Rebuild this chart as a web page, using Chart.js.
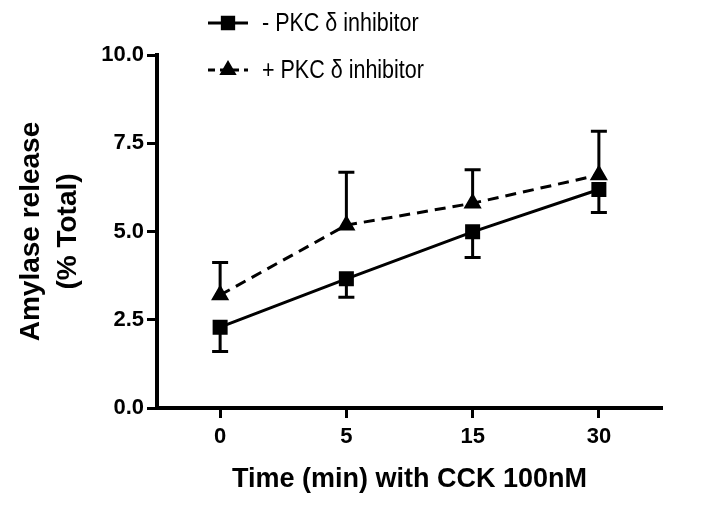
<!DOCTYPE html>
<html>
<head>
<meta charset="utf-8">
<script src="https://cdn.jsdelivr.net/npm/chart.js@4"></script>
<style>
  html, body { margin: 0; padding: 0; background: #fff; }
  #wrap { width: 704px; height: 511px; }
</style>
</head>
<body>
<div id="wrap"><canvas id="amylaseChart" width="704" height="511"></canvas></div>
<script>
// Data
const timeLabels = ["0", "5", "15", "30"];
const withoutInhibitor = [2.29, 3.66, 4.99, 6.19];
const withoutInhibitorErr = [0.69, 0.52, 0.73, 0.65];   // drawn downward
const withInhibitor = [3.2, 5.18, 5.8, 6.6];
const withInhibitorErr = [0.92, 1.5, 0.95, 1.24];       // drawn upward
const yTicks = [0, 2.5, 5, 7.5, 10];
const seriesNames = ["- PKC \u03b4 inhibitor", "+ PKC \u03b4 inhibitor"];

// Error bars: one-sided, drawn through the chart's own scales
const errorBars = {
  id: 'errorBars',
  beforeDatasetsDraw(chart) {
    const { ctx, scales: { x, y } } = chart;
    const sets = [
      { vals: withoutInhibitor, err: withoutInhibitorErr, dir: -1 },
      { vals: withInhibitor, err: withInhibitorErr, dir: 1 }
    ];
    ctx.save();
    ctx.strokeStyle = '#000';
    ctx.lineWidth = 3;
    sets.forEach(s => {
      s.vals.forEach((v, i) => {
        const px = x.getPixelForValue(i);
        const py0 = y.getPixelForValue(v);
        const py1 = y.getPixelForValue(v + s.dir * s.err[i]);
        ctx.beginPath();
        ctx.moveTo(px, py0);
        ctx.lineTo(px, py1);
        ctx.moveTo(px - 8, py1);
        ctx.lineTo(px + 8, py1);
        ctx.stroke();
      });
    });
    ctx.restore();
  }
};

// Legend: line sample with marker, then a slightly condensed label
const lineLegend = {
  id: 'lineLegend',
  afterDraw(chart) {
    const ctx = chart.ctx;
    const rows = [
      { y: 23, dash: [], style: 'rect', r: 8 },
      { y: 70, dash: [7, 5], style: 'triangle', r: 7 }
    ];
    ctx.save();
    rows.forEach((row, i) => {
      ctx.strokeStyle = '#000';
      ctx.lineWidth = 3;
      ctx.setLineDash(row.dash);
      ctx.beginPath();
      ctx.moveTo(208, row.y);
      ctx.lineTo(248, row.y);
      ctx.stroke();
      ctx.setLineDash([]);
      Chart.helpers.drawPoint(ctx, { pointStyle: row.style, radius: row.r, borderWidth: 1 }, 228, row.y);
      ctx.fillStyle = '#000';
      ctx.fill();
      ctx.save();
      ctx.translate(262, row.y + 1);
      ctx.scale(0.86, 1);
      ctx.font = '25px "Liberation Sans", Arial, sans-serif';
      ctx.textBaseline = 'middle';
      ctx.textAlign = 'left';
      ctx.fillText(seriesNames[i], 0, 0);
      ctx.restore();
    });
    ctx.restore();
  }
};

const tickFont = { family: '"Liberation Sans", Arial, sans-serif', size: 22, weight: 'bold' };

new Chart(document.getElementById('amylaseChart'), {
  type: 'line',
  data: {
    labels: timeLabels,
    datasets: [
      {
        label: seriesNames[0],
        data: withoutInhibitor,
        borderColor: '#000',
        backgroundColor: '#000',
        borderWidth: 3,
        pointStyle: 'rect',
        pointRadius: 8.5,
        tension: 0
      },
      {
        label: seriesNames[1],
        data: withInhibitor,
        borderColor: '#000',
        backgroundColor: '#000',
        borderWidth: 3,
        borderDash: [11, 7],
        pointStyle: 'triangle',
        pointRadius: 7.5,
        tension: 0
      }
    ]
  },
  options: {
    responsive: false,
    animation: false,
    layout: { padding: { top: 55, right: 42, left: 0, bottom: 0 } },
    plugins: {
      legend: { display: false },
      tooltip: { enabled: false }
    },
    scales: {
      x: {
        type: 'category',
        offset: true,
        afterFit: s => { s.height = 103; },
        grid: { drawOnChartArea: false, offset: false, tickLength: 10, tickWidth: 3, tickColor: '#000' },
        border: { color: '#000', width: 4 },
        ticks: { color: '#000', font: tickFont, padding: 6 },
        title: {
          display: true,
          text: 'Time (min) with CCK 100nM',
          color: '#000',
          font: { family: '"Liberation Sans", Arial, sans-serif', size: 27, weight: 'bold' },
          padding: { top: 0, bottom: 15 }
        }
      },
      y: {
        min: 0,
        max: 10,
        afterFit: s => { s.width = 157; },
        afterBuildTicks: s => { s.ticks = yTicks.map(v => ({ value: v })); },
        grid: { drawOnChartArea: false, tickLength: 10, tickWidth: 3, tickColor: '#000' },
        border: { color: '#000', width: 4 },
        ticks: {
          color: '#000',
          font: tickFont,
          padding: 3,
          callback: v => Number(v).toFixed(1)
        },
        title: {
          display: true,
          text: ['Amylase release', '(% Total)'],
          color: '#000',
          font: { family: '"Liberation Sans", Arial, sans-serif', size: 28, weight: 'bold', lineHeight: 1.35 },
          padding: { top: 12, bottom: 0 }
        }
      }
    }
  },
  plugins: [errorBars, lineLegend]
});
</script>
</body>
</html>
